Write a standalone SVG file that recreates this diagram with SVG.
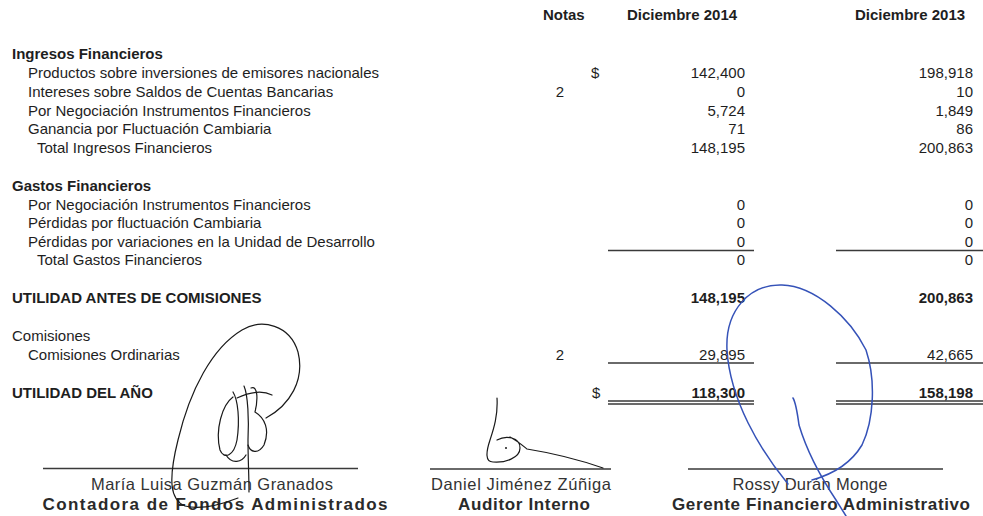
<svg xmlns="http://www.w3.org/2000/svg" width="983" height="516" viewBox="0 0 983 516">
<style>
text{font-family:"Liberation Sans",Arial,sans-serif;font-size:15px;fill:#1e1e1e}
.b{font-weight:bold}
.r{text-anchor:end}
.c{text-anchor:middle}
.nm{font-size:16.5px;fill:#333}
.tt{font-size:17px;font-weight:bold;fill:#2a2a2a}
.ln{stroke:#3a3a3a;stroke-width:1.3;fill:none}
.sg{stroke:#1a1a1a;stroke-width:1.2;fill:none;stroke-linecap:round}
.sb{stroke:#3552b8;stroke-width:1.5;fill:none;stroke-linecap:round}
</style>
<rect width="983" height="516" fill="#ffffff"/>
<g id="header">
<text class="b" x="543" y="20">Notas</text>
<text class="b" x="627" y="20">Diciembre 2014</text>
<text class="b" x="855" y="20">Diciembre 2013</text>
</g>
<g id="labels">
<text class="b" x="12" y="59">Ingresos Financieros</text>
<text x="28" y="78">Productos sobre inversiones de emisores nacionales</text>
<text x="28" y="97">Intereses sobre Saldos de Cuentas Bancarias</text>
<text x="28" y="115.5">Por Negociación Instrumentos Financieros</text>
<text x="28" y="134">Ganancia por Fluctuación Cambiaria</text>
<text x="37" y="152.5">Total Ingresos Financieros</text>
<text class="b" x="12" y="190.5">Gastos Financieros</text>
<text x="28" y="209.5">Por Negociación Instrumentos Financieros</text>
<text x="28" y="228">Pérdidas por fluctuación Cambiaria</text>
<text x="28" y="246.5">Pérdidas por variaciones en la Unidad de Desarrollo</text>
<text x="37" y="265">Total Gastos Financieros</text>
<text class="b" x="12" y="303">UTILIDAD ANTES DE COMISIONES</text>
<text x="12" y="341">Comisiones</text>
<text x="28" y="360">Comisiones Ordinarias</text>
<text class="b" x="12" y="398">UTILIDAD DEL AÑO</text>
</g>
<g id="notes">
<text class="c" x="560" y="97">2</text>
<text class="c" x="560" y="360">2</text>
<text x="591" y="78">$</text>
<text x="592" y="398">$</text>
</g>
<g id="col2014">
<text class="r" x="745" y="78">142,400</text>
<text class="r" x="745" y="97">0</text>
<text class="r" x="745" y="115.5">5,724</text>
<text class="r" x="745" y="134">71</text>
<text class="r" x="745" y="152.5">148,195</text>
<text class="r" x="745" y="209.5">0</text>
<text class="r" x="745" y="228">0</text>
<text class="r" x="745" y="246.5">0</text>
<text class="r" x="745" y="265">0</text>
<text class="r b" x="745" y="303">148,195</text>
<text class="r" x="745" y="360">29,895</text>
<text class="r b" x="745" y="398">118,300</text>
</g>
<g id="col2013">
<text class="r" x="973" y="78">198,918</text>
<text class="r" x="973" y="97">10</text>
<text class="r" x="973" y="115.5">1,849</text>
<text class="r" x="973" y="134">86</text>
<text class="r" x="973" y="152.5">200,863</text>
<text class="r" x="973" y="209.5">0</text>
<text class="r" x="973" y="228">0</text>
<text class="r" x="973" y="246.5">0</text>
<text class="r" x="973" y="265">0</text>
<text class="r b" x="973" y="303">200,863</text>
<text class="r" x="973" y="360">42,665</text>
<text class="r b" x="973" y="398">158,198</text>
</g>
<g id="rules">
<path class="ln" d="M608 250.5H754M836 250.5H983M608 363H754M836 363H983M608 401H754M836 401H983M608 404H754M836 404H983"/>
<path class="ln" d="M43 468.5H358M430 469H611M688 469H943"/>
</g>
<g id="signers">
<text class="nm c" x="212" y="490" textLength="242" lengthAdjust="spacing">María Luisa Guzmán Granados</text>
<text class="tt c" x="215" y="510" textLength="345" lengthAdjust="spacing">Contadora de Fondos Administrados</text>
<text class="nm c" x="521" y="490" textLength="180" lengthAdjust="spacing">Daniel Jiménez Zúñiga</text>
<text class="tt c" x="524" y="510" textLength="132" lengthAdjust="spacing">Auditor Interno</text>
<text class="nm c" x="810" y="490" textLength="155" lengthAdjust="spacing">Rossy Durán Monge</text>
<text class="tt c" x="821" y="510" textLength="298" lengthAdjust="spacing">Gerente Financiero Administrativo</text>
</g>
<g id="signature1">
<path class="sg" d="M266 418C290 405 305 380 298 352C290 325 262 318 242 330C212 348 190 390 178 440C168 480 170 500 185 506C200 510 220 505 238 498"/>
<path class="sg" d="M233 397C222 405 215 430 220 450C224 460 234 456 237 440C240 420 238 400 233 392"/>
<path class="sg" d="M237 398C250 392 262 390 272 395"/>
<path class="sg" d="M244 386C248 395 249 420 248 440C248 460 249 475 249 492"/>
<path class="sg" d="M251 388C258 385 258 400 255 412C265 418 270 430 264 445C258 455 250 452 248 445"/>
<path class="sg" d="M226 455C232 465 242 462 246 455"/>
</g>
<g id="signature2">
<path class="sg" d="M497 398C498 415 494 428 490 440C486 452 485 462 493 462C505 463 520 458 520 448C520 437 506 435 497 440M510 437C516 440 522 445 527 449C552 453 580 460 603 468"/>
<circle cx="506" cy="448" r="1" fill="#1a1a1a"/>
</g>
<g id="signature3">
<path class="sb" d="M788 484C760 450 730 400 727 350C725 310 750 284 782 285C815 286 850 318 866 350C876 380 874 420 862 445C850 465 830 475 812 480"/>
<path class="sb" d="M793 398C796 403 797 410 799 425C808 455 824 482 836 500L846 516"/>
</g>
</svg>
